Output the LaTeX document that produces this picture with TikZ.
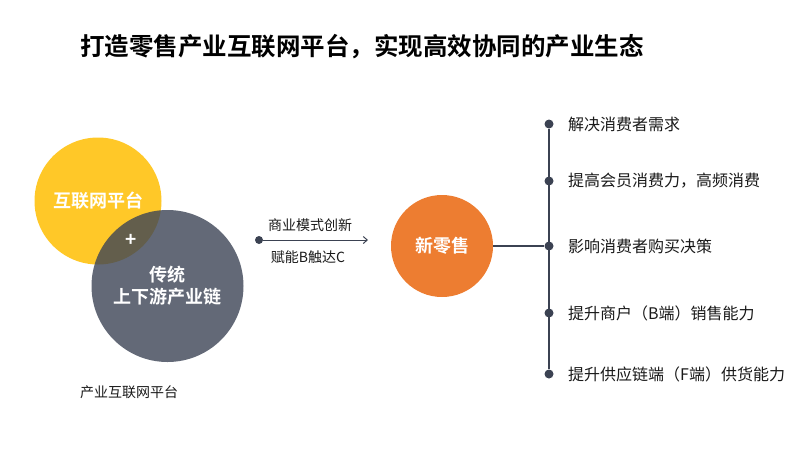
\documentclass[tikz,border=0pt]{standalone}
\usepackage{fontspec}
\setmainfont{Noto Sans CJK SC}[BoldFont=* Bold]
\usepackage{xcolor}
\usetikzlibrary{arrows.meta,positioning}
\definecolor{retailYellow}{RGB}{255,200,40}
\definecolor{retailGray}{RGB}{60,68,85}
\definecolor{retailOrange}{RGB}{237,125,49}
\definecolor{retailDark}{RGB}{59,66,82}
\definecolor{retailText}{RGB}{25,25,25}

\tikzset{
  bubble/.style={circle, inner sep=0pt, text=white, font=\bfseries\fontsize{18}{22}\selectfont, align=center},
  listdot/.style={circle, fill=retailDark, inner sep=0pt, minimum size=9pt},
  listtext/.style={text=retailText, font=\fontsize{16}{19}\selectfont, anchor=west, inner sep=0pt},
  smalltext/.style={text=retailText, font=\fontsize{14}{17}\selectfont, inner sep=0pt}
}

\begin{document}
\begin{tikzpicture}[x=1pt,y=-1pt]
    \useasboundingbox (0,0) rectangle (805,467);

    % title
    \node[anchor=west, text=black, font=\bfseries\fontsize{24.5}{28}\selectfont, inner sep=0pt] (title) at (80,47)
        {打造零售产业互联网平台，实现高效协同的产业生态};

    % two overlapping circles
    \node[bubble, fill=retailYellow, minimum size=127pt] (platform) at (98,201) {互联网平台};
    \node[bubble, fill=retailGray, fill opacity=0.8, text opacity=1, minimum size=152pt] (chain) at (167.5,286)
        {传统\\上下游产业链};
    \node[text=white, font=\bfseries\fontsize{19}{21}\selectfont, inner sep=0pt] (plus) at (131,240) {+};
    \node[smalltext] (caption) at (129,392) {产业互联网平台};

    % arrow with labels
    \node[listdot, minimum size=8pt] (arrowstart) at (259,240) {};
    \coordinate (arrowend) at (368,240);
    \draw[retailDark, line width=1pt, -{Straight Barb[length=4pt,width=7pt]}] (arrowstart) -- (arrowend);
    \node[smalltext] (innovation) at (310,225) {商业模式创新};
    \node[smalltext] (reach) at (308,257) {赋能B触达C};

    % new retail circle
    \node[bubble, fill=retailOrange, minimum size=102pt] (newretail) at (442,246) {新零售};

    % list of effects
    \foreach \n/\y/\txt in {1/124/解决消费者需求, 2/181/{提高会员消费力，高频消费}, 3/246/影响消费者购买决策,
                            4/313/提升商户（B端）销售能力, 5/374/提升供应链端（F端）供货能力}{
        \node[listdot] (d\n) at (549,\y) {};
        \node[listtext] (t\n) at (568,\y) {\txt};
    }
    \draw[retailDark, line width=1.5pt] (d1) -- (d5);
    \draw[retailDark, line width=1.5pt] (newretail) -- (d3);
\end{tikzpicture}
\end{document}
